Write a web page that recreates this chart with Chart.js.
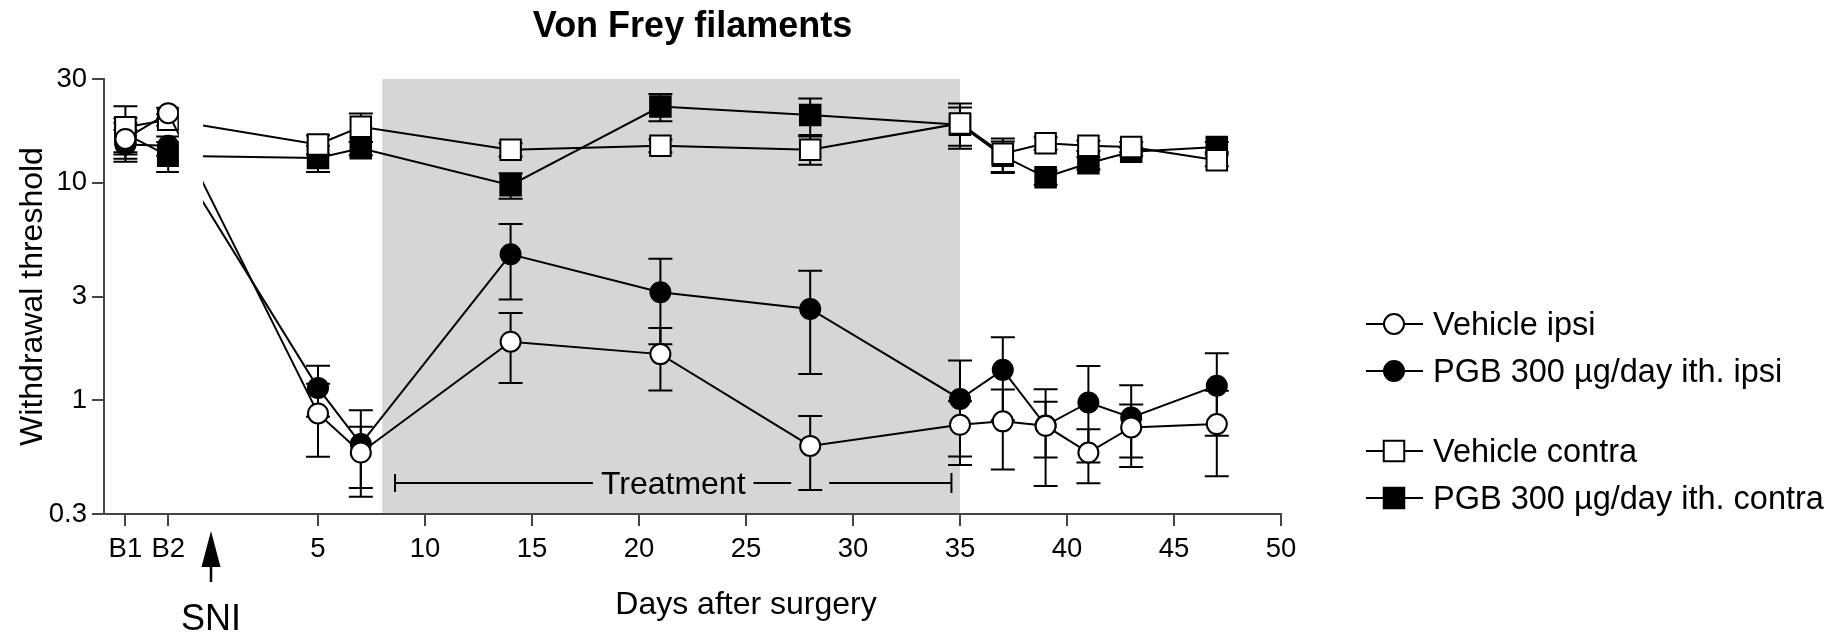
<!DOCTYPE html>
<html>
<head>
<meta charset="utf-8">
<title>Von Frey filaments</title>
<script src="https://cdn.jsdelivr.net/npm/chart.js@4"></script>
<style>
  html, body { margin: 0; padding: 0; background: #fff; }
  #wrap { width: 1848px; height: 636px; }
</style>
</head>
<body>
<div id="wrap"><canvas id="vonFrey"></canvas></div>
<script>
// days after surgery (B1 / B2 = baselines)
const days = [-4, -2, 5, 7, 14, 21, 28, 35, 37, 39, 41, 43, 47];

const seriesNames = ['Vehicle ipsi', 'PGB 300 µg/day ith. ipsi', 'Vehicle contra', 'PGB 300 µg/day ith. contra'];

const vehicleIpsi      = [15.9, 20.9, 0.87, 0.575, 1.86, 1.63, 0.617, 0.771, 0.80, 0.763, 0.575, 0.75, 0.777];
const vehicleIpsiSem   = [3.0, 1.2, 0.32, 0.18, 0.66, 0.52, 0.23, 0.22, 0.32, 0.36, 0.16, 0.205, 0.33];
const pgbIpsi          = [15.0, 14.8, 1.14, 0.63, 4.69, 3.14, 2.63, 1.014, 1.38, 0.765, 0.977, 0.833, 1.167];
const pgbIpsiSem       = [2.5, 1.5, 0.30, 0.27, 1.78, 1.33, 1.31, 0.51, 0.57, 0.22, 0.46, 0.34, 0.48];
const vehicleContra    = [18.0, 19.5, 15.0, 18.1, 14.2, 14.8, 14.2, 18.75, 13.6, 15.2, 14.8, 14.6, 12.7];
const vehicleContraSem = [4.5, 1.2, 1.5, 2.7, 1.0, 1.0, 2.1, 4.4, 2.4, 1.0, 0.8, 0.8, 0.8];
const pgbContra        = [16.8, 13.3, 13.0, 14.4, 9.75, 22.4, 20.5, 18.5, 13.3, 10.6, 12.3, 13.9, 14.6];
const pgbContraSem     = [3.0, 2.1, 1.8, 1.0, 1.3, 3.2, 3.9, 3.7, 2.2, 0.8, 0.8, 0.6, 0.8];

const xTicks = [-4, -2, 5, 10, 15, 20, 25, 30, 35, 40, 45, 50];
const xTickLabels = ['B1', 'B2', '5', '10', '15', '20', '25', '30', '35', '40', '45', '50'];
const yTicks = [0.3, 1, 3, 10, 30];
const yTickLabels = ['0.3', '1', '3', '10', '30'];

const treatmentShade = [8, 35];
const treatmentBracket = [8.6, 34.6];
const surgeryDay = 0;
const lineBreak = [-1.5, -0.37];

const FONT = '"Liberation Sans", Arial, Helvetica, sans-serif';
const INK = '#000';

const values = [vehicleIpsi, pgbIpsi, vehicleContra, pgbContra];
const sems = [vehicleIpsiSem, pgbIpsiSem, vehicleContraSem, pgbContraSem];
const styles = [
  { pointStyle: 'circle', radius: 10, fill: '#fff' },
  { pointStyle: 'circle', radius: 10, fill: '#000' },
  { pointStyle: 'rect', radius: 14.5, fill: '#fff' },
  { pointStyle: 'rect', radius: 14.5, fill: '#000' }
];

const datasets = values.map((vals, d) => ({
  label: seriesNames[d],
  data: days.map((day, i) => ({ x: day, y: vals[i] })),
  borderColor: INK,
  borderWidth: 2,
  pointStyle: styles[d].pointStyle,
  pointRadius: styles[d].radius,
  pointBackgroundColor: styles[d].fill,
  pointBorderColor: INK,
  pointBorderWidth: 2,
  tension: 0,
  clip: false
}));

function drawMarker(ctx, st, x, y) {
  ctx.save();
  ctx.fillStyle = st.fill;
  ctx.strokeStyle = INK;
  ctx.lineWidth = 2;
  ctx.beginPath();
  if (st.pointStyle === 'circle') {
    ctx.arc(x, y, st.radius, 0, Math.PI * 2);
  } else {
    const h = st.radius * Math.SQRT1_2;
    ctx.rect(x - h, y - h, 2 * h, 2 * h);
  }
  ctx.fill();
  ctx.stroke();
  ctx.restore();
}

const decor = {
  id: 'decor',
  beforeDraw(chart) {
    const { ctx, chartArea: a, scales: { x } } = chart;
    const x0 = x.getPixelForValue(treatmentShade[0]);
    const x1 = x.getPixelForValue(treatmentShade[1]);
    ctx.save();
    ctx.fillStyle = '#d6d6d6';
    ctx.fillRect(x0, a.top, x1 - x0, a.bottom - a.top);
    ctx.restore();
  },
  beforeDatasetsDraw(chart) {
    const { ctx, chartArea: a, scales: { x, y } } = chart;
    ctx.save();
    ctx.strokeStyle = INK;
    ctx.lineWidth = 2;

    // error bars (SEM)
    values.forEach((vals, d) => {
      vals.forEach((v, i) => {
        const px = x.getPixelForValue(days[i]);
        const top = y.getPixelForValue(v + sems[d][i]);
        const bot = y.getPixelForValue(Math.max(v - sems[d][i], 0.01));
        ctx.beginPath();
        ctx.moveTo(px, top); ctx.lineTo(px, bot);
        ctx.moveTo(px - 12, top); ctx.lineTo(px + 12, top);
        ctx.moveTo(px - 12, bot); ctx.lineTo(px + 12, bot);
        ctx.stroke();
      });
    });

    // treatment bracket
    const by = a.bottom - 31;
    const bx0 = x.getPixelForValue(treatmentBracket[0]);
    const bx1 = x.getPixelForValue(treatmentBracket[1]);
    const mid = (bx0 + bx1) / 2;
    ctx.font = '32px ' + FONT;
    const tw = ctx.measureText('Treatment').width;
    const t0 = mid - tw / 2 - 8, t1 = mid + tw / 2 + 8;
    const gx = x.getPixelForValue(days[6]);
    ctx.beginPath();
    ctx.moveTo(bx0, by - 9); ctx.lineTo(bx0, by + 9);
    ctx.moveTo(bx0, by); ctx.lineTo(t0, by);
    ctx.moveTo(t1, by); ctx.lineTo(gx - 19, by);
    ctx.moveTo(gx + 19, by); ctx.lineTo(bx1, by);
    ctx.moveTo(bx1, by - 10); ctx.lineTo(bx1, by + 10);
    ctx.stroke();
    ctx.fillStyle = INK;
    ctx.textAlign = 'center';
    ctx.textBaseline = 'alphabetic';
    ctx.fillText('Treatment', mid, by + 11);
    ctx.restore();
  },
  afterDatasetsDraw(chart) {
    const { ctx, scales: { x, y } } = chart;
    // break in the lines around the surgery
    const x0 = x.getPixelForValue(lineBreak[0]);
    const x1 = x.getPixelForValue(lineBreak[1]);
    const y0 = y.getPixelForValue(26), y1 = y.getPixelForValue(7);
    ctx.save();
    ctx.fillStyle = '#fff';
    ctx.fillRect(x0, y0, x1 - x0, y1 - y0);
    ctx.restore();
  },
  afterDraw(chart) {
    const { ctx, chartArea: a, scales: { x } } = chart;
    ctx.save();
    ctx.fillStyle = INK;
    ctx.strokeStyle = INK;

    // title
    ctx.font = 'bold 36px ' + FONT;
    ctx.textAlign = 'center';
    ctx.textBaseline = 'alphabetic';
    ctx.fillText('Von Frey filaments', (a.left + a.right) / 2, 37);

    // x title
    ctx.font = '32px ' + FONT;
    ctx.fillText('Days after surgery', (x.getPixelForValue(0) + x.getPixelForValue(50)) / 2, 614);

    // y title
    ctx.save();
    ctx.translate(42, (a.top + a.bottom) / 2);
    ctx.rotate(-Math.PI / 2);
    ctx.fillText('Withdrawal threshold', 0, 0);
    ctx.restore();

    // SNI arrow
    const sx = x.getPixelForValue(surgeryDay);
    ctx.beginPath();
    ctx.moveTo(sx, 531); ctx.lineTo(sx + 9.5, 567); ctx.lineTo(sx - 9.5, 567);
    ctx.closePath();
    ctx.fill();
    ctx.lineWidth = 2.5;
    ctx.beginPath();
    ctx.moveTo(sx, 560); ctx.lineTo(sx, 582);
    ctx.stroke();
    ctx.font = '36px ' + FONT;
    ctx.fillText('SNI', sx, 630);

    // legend
    const rows = [324, 371, 451, 498];
    ctx.font = '32.5px ' + FONT;
    ctx.textAlign = 'left';
    seriesNames.forEach((name, d) => {
      const ry = rows[d];
      ctx.lineWidth = 2;
      ctx.beginPath();
      ctx.moveTo(1366, ry); ctx.lineTo(1423, ry);
      ctx.stroke();
      drawMarker(ctx, styles[d], 1394, ry);
      ctx.fillStyle = INK;
      ctx.fillText(name, 1433, ry + 11);
    });
    ctx.restore();
  }
};

new Chart(document.getElementById('vonFrey'), {
  type: 'line',
  data: { datasets: datasets },
  options: {
    responsive: true,
    maintainAspectRatio: false,
    animation: false,
    events: [],
    layout: { padding: { left: 0, right: 567, top: 79, bottom: 0 } },
    plugins: {
      legend: { display: false },
      title: { display: false },
      tooltip: { enabled: false }
    },
    scales: {
      x: {
        type: 'linear',
        min: -5,
        max: 50,
        afterBuildTicks: (scale) => { scale.ticks = xTicks.map(v => ({ value: v })); },
        afterFit: (scale) => { scale.height = 122; },
        ticks: {
          autoSkip: false,
          maxRotation: 0,
          padding: 7,
          color: INK,
          font: { family: FONT, size: 27.5 },
          callback: (value, i) => xTickLabels[i]
        },
        grid: { drawOnChartArea: false, drawTicks: true, tickLength: 12, color: '#444', lineWidth: 2 },
        border: { display: true, color: '#444', width: 2 }
      },
      y: {
        type: 'logarithmic',
        min: 0.3,
        max: 30,
        afterBuildTicks: (scale) => { scale.ticks = yTicks.map(v => ({ value: v })); },
        afterFit: (scale) => { scale.width = 104; },
        ticks: {
          autoSkip: false,
          padding: 5,
          color: INK,
          font: { family: FONT, size: 27.5 },
          callback: (value, i) => yTickLabels[i]
        },
        grid: { drawOnChartArea: false, drawTicks: true, tickLength: 12, color: '#444', lineWidth: 2 },
        border: { display: true, color: '#444', width: 2 }
      }
    }
  },
  plugins: [decor]
});
</script>
</body>
</html>
